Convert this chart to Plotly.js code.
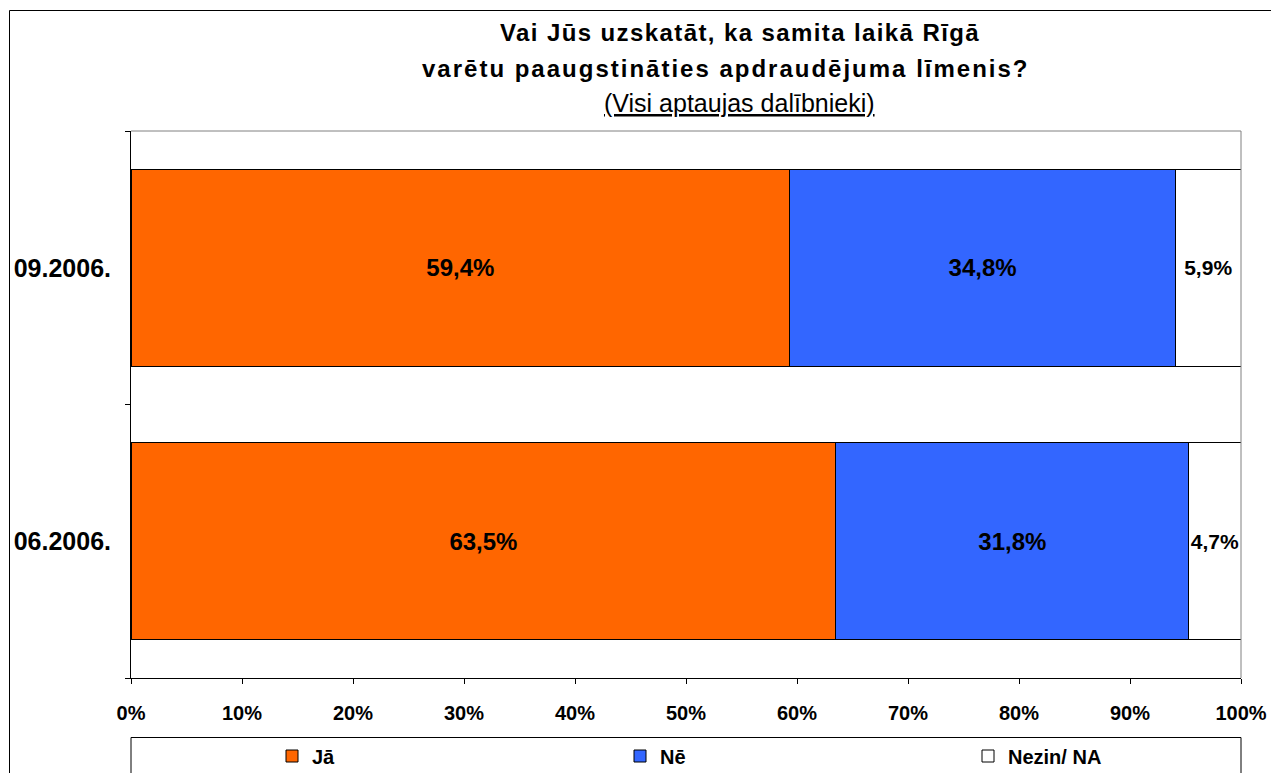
<!DOCTYPE html>
<html>
<head>
<meta charset="utf-8">
<script src="https://cdn.plot.ly/plotly-3.0.1.min.js"></script>
<style>
html,body{margin:0;padding:0;background:#fff;}
#chart{width:1271px;height:773px;}
.gtitle{letter-spacing:1.4px;}
g.annotation[data-index="0"] text{letter-spacing:2px;}
</style>
</head>
<body>
<div id="chart"></div>
<script>
// Data
const categories = ['06.2006.', '09.2006.'];
const seriesNames = ['Jā', 'Nē', 'Nezin/ NA'];
const jaValues = [63.5, 59.4];
const neValues = [31.8, 34.8];
const nezinValues = [4.7, 5.9];
const xTickValues = [0, 10, 20, 30, 40, 50, 60, 70, 80, 90, 100];
const xTickLabels = ['0%', '10%', '20%', '30%', '40%', '50%', '60%', '70%', '80%', '90%', '100%'];

const FONT = 'Liberation Sans, Arial, sans-serif';
const fmt = v => v.toFixed(1).replace('.', ',') + '%';

function barTrace(name, values, color, textSize) {
  return {
    type: 'bar',
    orientation: 'h',
    name: name,
    y: categories,
    x: values,
    text: values.map(fmt),
    textposition: 'inside',
    insidetextanchor: 'middle',
    textangle: 0,
    constraintext: 'none',
    textfont: {family: FONT, size: textSize, color: '#000', weight: 'bold'},
    marker: {color: color, line: {color: '#000', width: 1}},
    hoverinfo: 'skip'
  };
}

const data = [
  barTrace(seriesNames[0], jaValues, '#FF6600', 24),
  barTrace(seriesNames[1], neValues, '#3366FF', 24),
  barTrace(seriesNames[2], nezinValues, '#FFFFFF', 21)
];

const L = 131, R = 1241, T = 131, B = 678;
const W = R - L, H = B - T;
const px = x => (x - L) / W;
const py = y => (B - y) / H;

const layout = {
  width: 1271,
  height: 773,
  margin: {l: L, r: 1271 - R, t: T, b: 773 - B, pad: 0, autoexpand: false},
  paper_bgcolor: '#fff',
  plot_bgcolor: '#fff',
  barmode: 'stack',
  barnorm: 'percent',
  bargap: 0.28,
  showlegend: true,
  font: {family: FONT, color: '#000'},
  title: {
    text: '<b>Vai Jūs uzskatāt, ka samita laikā Rīgā</b>',
    font: {family: FONT, size: 24, color: '#000'},
    x: 740 / 1271, xanchor: 'center', xref: 'container',
    y: 1 - 33 / 773, yanchor: 'middle', yref: 'container'
  },
  annotations: [
    {
      text: '<b>varētu paaugstināties apdraudējuma līmenis?</b>',
      xref: 'paper', yref: 'paper', x: px(725), y: py(68),
      xanchor: 'center', yanchor: 'middle', showarrow: false,
      font: {family: FONT, size: 24, color: '#000'}
    },
    {
      text: '(Visi aptaujas dalībnieki)',
      xref: 'paper', yref: 'paper', x: px(739), y: py(103),
      xanchor: 'center', yanchor: 'middle', showarrow: false,
      font: {family: FONT, size: 25, color: '#000', lineposition: 'under'}
    }
  ],
  xaxis: {
    range: [0, 100],
    tickvals: xTickValues,
    ticktext: xTickLabels,
    ticks: 'outside',
    ticklen: 5,
    tickcolor: '#000',
    tickwidth: 1,
    showline: true,
    linecolor: '#000',
    linewidth: 1,
    showgrid: false,
    zeroline: false,
    fixedrange: true,
    ticklabelstandoff: 12,
    tickfont: {family: FONT, size: 20, color: '#000', weight: 'bold'}
  },
  yaxis: {
    type: 'category',
    categoryorder: 'array',
    categoryarray: categories,
    ticks: 'outside',
    tickson: 'boundaries',
    ticklen: 5,
    tickcolor: '#000',
    tickwidth: 1,
    showline: true,
    linecolor: '#000',
    linewidth: 1,
    showgrid: false,
    zeroline: false,
    fixedrange: true,
    ticklabelstandoff: 14,
    tickfont: {family: FONT, size: 25, color: '#000', weight: 'bold'}
  },
  legend: {
    orientation: 'h',
    x: px(272), xanchor: 'left',
    y: py(756), yanchor: 'middle',
    entrywidth: 303,
    entrywidthmode: 'pixels',
    bgcolor: 'rgba(0,0,0,0)',
    borderwidth: 0,
    traceorder: 'normal',
    font: {family: FONT, size: 20, color: '#000', weight: 'bold'},
    itemclick: false,
    itemdoubleclick: false
  },
  shapes: [
    {type: 'line', xref: 'paper', yref: 'paper', x0: 0, x1: 1, y0: 1, y1: 1, line: {color: '#808080', width: 1}},
    {type: 'line', xref: 'paper', yref: 'paper', x0: 1, x1: 1, y0: 0, y1: 1, line: {color: '#808080', width: 1}},
    {type: 'rect', xref: 'paper', yref: 'paper', x0: 0, x1: 1, y0: py(800), y1: py(737.5), line: {color: '#000', width: 1}, fillcolor: 'rgba(0,0,0,0)', layer: 'below'},
    {type: 'rect', xref: 'paper', yref: 'paper', x0: px(9.5), x1: px(1300), y0: py(820), y1: py(10.5), line: {color: '#000', width: 1}, fillcolor: 'rgba(0,0,0,0)', layer: 'below'}
  ]
};

Plotly.newPlot('chart', data, layout, {displayModeBar: false, staticPlot: true});
</script>
</body>
</html>
